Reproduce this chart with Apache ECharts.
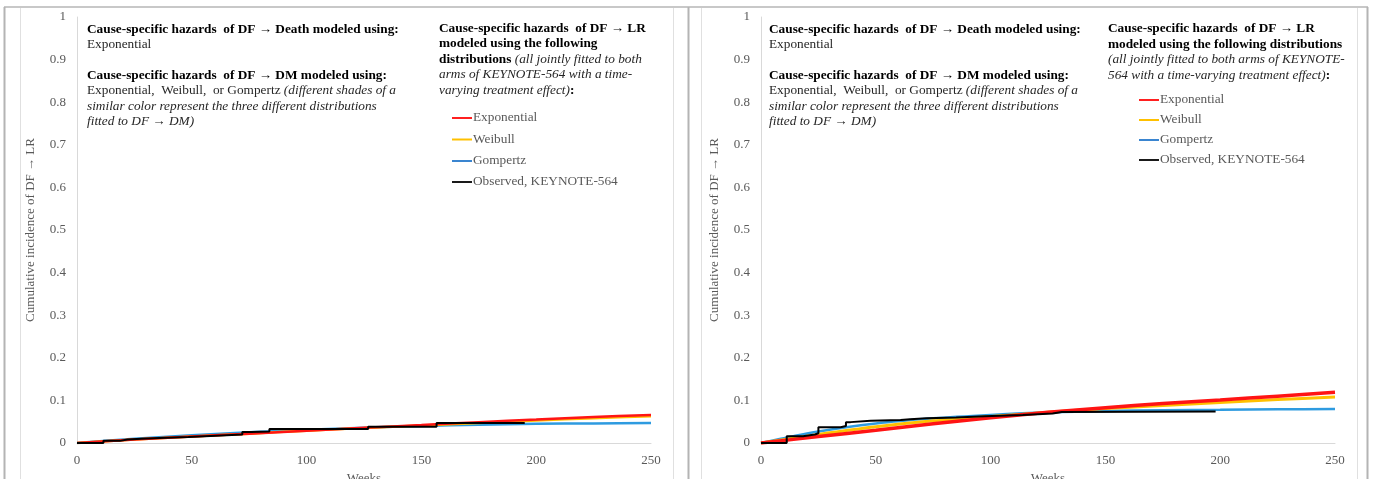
<!DOCTYPE html>
<html>
<head>
<meta charset="utf-8">
<script src="https://cdn.jsdelivr.net/npm/echarts@6/dist/echarts.min.js"></script>
<style>
html,body{margin:0;padding:0;background:#fff;overflow:hidden;}
#c{width:1373px;height:479px;}
</style>
</head>
<body>
<div id="c"></div>
<script>
// ---- Data ----
const modelWeeks = [0, 25, 50, 75, 100, 125, 150, 175, 200, 225, 250];
// Left panel
const leftExponential = [0, 0.008, 0.015, 0.022, 0.029, 0.036, 0.042, 0.049, 0.055, 0.061, 0.066];
const leftWeibull     = [0, 0.008, 0.015, 0.022, 0.029, 0.035, 0.041, 0.047, 0.053, 0.058, 0.063];
const leftGompertz    = [0, 0.010, 0.018, 0.025, 0.031, 0.036, 0.040, 0.043, 0.045, 0.046, 0.047];
const leftObsWeeks  = [0, 11.5, 18.7, 22, 28, 36, 48.5, 60.5, 72, 76, 83.8, 126.8, 156.6, 195];
const leftObsValues = [0, 0.005, 0.008, 0.010, 0.012, 0.014, 0.017, 0.020, 0.026, 0.027, 0.033, 0.038, 0.047, 0.048];
// Right panel
const rightExponential = [0, 0.015, 0.030, 0.045, 0.059, 0.072, 0.083, 0.093, 0.101, 0.110, 0.119];
const rightWeibull     = [0, 0.020, 0.038, 0.052, 0.062, 0.072, 0.081, 0.088, 0.095, 0.102, 0.108];
const rightGompertz    = [0, 0.027, 0.046, 0.058, 0.066, 0.072, 0.075, 0.077, 0.078, 0.079, 0.080];
const rightObsWeeks  = [0, 11.2, 18.3, 23.5, 25, 34.7, 37, 39, 47.7, 60.8, 65, 72, 85, 97.4, 114, 127, 131, 198];
const rightObsValues = [0, 0.016, 0.020, 0.023, 0.037, 0.040, 0.049, 0.052, 0.054, 0.056, 0.058, 0.060, 0.063, 0.066, 0.069, 0.073, 0.074, 0.074];

const seriesNames = ['Exponential', 'Weibull', 'Gompertz', 'Observed, KEYNOTE-564'];
const xAxisName = 'Weeks';
const yAxisName = 'Cumulative incidence of DF \u2192 LR';

// ---- Styling ----
const FONT = '"Liberation Serif", "Times New Roman", serif';
const colors = { exp: '#ff1414', wei: '#ffc000', gom: '#2e9be0', obs: '#000000' };
const legendColors = ['#ff2020', '#ffc000', '#3a85d0', '#1a1a1a'];

function pairs(xs, ys) { return xs.map((x, i) => [x, ys[i]]); }

function axisPair(idx) {
  return {
    x: {
      type: 'value', gridIndex: idx, min: 0, max: 250, interval: 50,
      name: xAxisName, nameLocation: 'middle', nameGap: 24,
      nameTextStyle: { fontFamily: FONT, fontSize: 13, color: '#595959' },
      axisLine: { show: true, lineStyle: { color: '#d9d9d9', width: 1 } },
      axisTick: { show: false },
      axisLabel: { fontFamily: FONT, fontSize: 13, color: '#595959', margin: 11 },
      splitLine: { show: false }
    },
    y: {
      type: 'value', gridIndex: idx, min: 0, max: 1, interval: 0.1,
      name: yAxisName, nameLocation: 'middle', nameGap: 40, nameRotate: 90,
      nameTextStyle: { fontFamily: FONT, fontSize: 13, color: '#595959' },
      axisLine: { show: true, lineStyle: { color: '#d9d9d9', width: 1 } },
      axisTick: { show: false },
      axisLabel: { fontFamily: FONT, fontSize: 13, color: '#595959', margin: 11 },
      splitLine: { show: false }
    }
  };
}
const a0 = axisPair(0), a1 = axisPair(1);

function lineSeries(name, idx, data, color, width, z, step) {
  const s = {
    name: name, type: 'line', xAxisIndex: idx, yAxisIndex: idx,
    data: data, showSymbol: false, symbol: 'none', smooth: step ? false : 0.3,
    lineStyle: { color: color, width: width }, z: z, silent: true, animation: false
  };
  if (step) s.step = 'end';
  return s;
}

const series = [
  lineSeries(seriesNames[2], 0, pairs(modelWeeks, leftGompertz), colors.gom, 2.5, 2),
  lineSeries(seriesNames[1], 0, pairs(modelWeeks, leftWeibull), colors.wei, 2.5, 3),
  lineSeries(seriesNames[0], 0, pairs(modelWeeks, leftExponential), colors.exp, 2.5, 4),
  lineSeries(seriesNames[3], 0, pairs(leftObsWeeks, leftObsValues), colors.obs, 2, 5, true),
  lineSeries(seriesNames[2], 1, pairs(modelWeeks, rightGompertz), colors.gom, 2.5, 2),
  lineSeries(seriesNames[1], 1, pairs(modelWeeks, rightWeibull), colors.wei, 3, 3),
  lineSeries(seriesNames[0], 1, pairs(modelWeeks, rightExponential), colors.exp, 3.5, 4),
  lineSeries(seriesNames[3], 1, pairs(rightObsWeeks, rightObsValues), colors.obs, 2, 5, true)
];

// ---- Text annotations ----
const FS = 13.3;
const rich = {
  b: { fontFamily: FONT, fontSize: FS, fontWeight: 'bold', fill: '#000' },
  n: { fontFamily: FONT, fontSize: FS, fill: '#262626' },
  i: { fontFamily: FONT, fontSize: FS, fontStyle: 'italic', fill: '#262626' },
  ib: { fontFamily: FONT, fontSize: FS, fontWeight: 'bold', fill: '#000' }
};
function txt(x, y, text) {
  return { type: 'text', silent: true, z: 10, style: { x: x, y: y, text: text, rich: rich, verticalAlign: 'middle', align: 'left', font: FS + 'px ' + FONT, fill: '#262626' } };
}
function leftBlock(x0) {
  return [
    txt(x0, 30, '{b|Cause-specific hazards  of DF \u2192 Death modeled using:}'),
    txt(x0, 45, '{n|Exponential}'),
    txt(x0, 76, '{b|Cause-specific hazards  of DF \u2192 DM modeled using:}'),
    txt(x0, 91, '{n|Exponential,  Weibull,  or Gompertz }{i|(different shades of a}'),
    txt(x0, 107, '{i|similar color represent the three different distributions}'),
    txt(x0, 122, '{i|fitted to DF \u2192 DM)}')
  ];
}
function legendItems(lx, ys) {
  const out = [];
  seriesNames.forEach((nm, k) => {
    out.push({ type: 'line', silent: true, z: 10, shape: { x1: lx, y1: ys[k], x2: lx + 20, y2: ys[k] }, style: { stroke: legendColors[k], lineWidth: 2 } });
    out.push({ type: 'text', silent: true, z: 10, style: { x: lx + 21, y: ys[k], text: nm, verticalAlign: 'middle', font: FS + 'px ' + FONT, fill: '#595959' } });
  });
  return out;
}

const graphics = [].concat(
  leftBlock(87),
  [
    txt(439, 29, '{b|Cause-specific hazards  of DF \u2192 LR}'),
    txt(439, 44, '{b|modeled using the following}'),
    txt(439, 60, '{b|distributions }{i|(all jointly fitted to both}'),
    txt(439, 75, '{i|arms of KEYNOTE-564 with a time-}'),
    txt(439, 91, '{i|varying treatment effect)}{ib|:}')
  ],
  legendItems(452, [118, 139.5, 161, 182]),
  leftBlock(769),
  [
    txt(1108, 29, '{b|Cause-specific hazards  of DF \u2192 LR}'),
    txt(1108, 45, '{b|modeled using the following distributions}'),
    txt(1108, 60, '{i|(all jointly fitted to both arms of KEYNOTE-}'),
    txt(1108, 76, '{i|564 with a time-varying treatment effect)}{ib|:}')
  ],
  legendItems(1139, [100, 120, 140, 160]),
  // frame lines
  [
    { type: 'line', silent: true, shape: { x1: 4, y1: 7, x2: 1368, y2: 7 }, style: { stroke: '#c8c8c8', lineWidth: 2 } },
    { type: 'line', silent: true, shape: { x1: 4.5, y1: 7, x2: 4.5, y2: 479 }, style: { stroke: '#b4b4b4', lineWidth: 2 } },
    { type: 'line', silent: true, shape: { x1: 688.5, y1: 7, x2: 688.5, y2: 479 }, style: { stroke: '#b4b4b4', lineWidth: 2 } },
    { type: 'line', silent: true, shape: { x1: 1367.5, y1: 7, x2: 1367.5, y2: 479 }, style: { stroke: '#b4b4b4', lineWidth: 2 } },
    { type: 'line', silent: true, shape: { x1: 20.5, y1: 8, x2: 20.5, y2: 479 }, style: { stroke: '#e0e0e0', lineWidth: 1 } },
    { type: 'line', silent: true, shape: { x1: 673.5, y1: 8, x2: 673.5, y2: 479 }, style: { stroke: '#e0e0e0', lineWidth: 1 } },
    { type: 'line', silent: true, shape: { x1: 701.5, y1: 8, x2: 701.5, y2: 479 }, style: { stroke: '#e0e0e0', lineWidth: 1 } },
    { type: 'line', silent: true, shape: { x1: 1357.5, y1: 8, x2: 1357.5, y2: 479 }, style: { stroke: '#e0e0e0', lineWidth: 1 } }
  ]
);

const chart = echarts.init(document.getElementById('c'), null, { renderer: 'canvas' });
chart.setOption({
  animation: false,
  backgroundColor: '#ffffff',
  grid: [
    { left: 77, right: 722, top: 17, bottom: 36, containLabel: false, outerBoundsMode: 'none' },
    { left: 761, right: 38, top: 17, bottom: 36, containLabel: false, outerBoundsMode: 'none' }
  ],
  xAxis: [a0.x, a1.x],
  yAxis: [a0.y, a1.y],
  series: series,
  graphic: graphics
});
</script>
</body>
</html>
